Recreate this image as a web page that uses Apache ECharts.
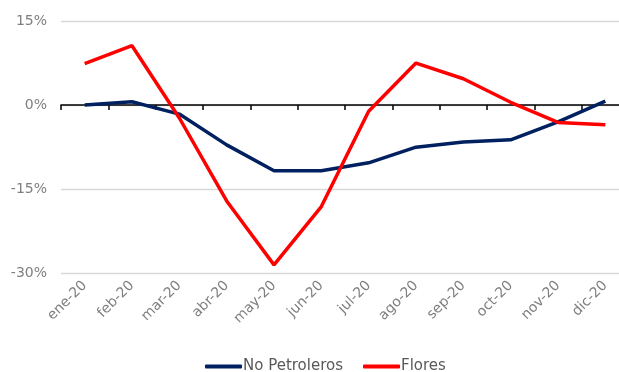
<!DOCTYPE html>
<html>
<head>
<meta charset="utf-8">
<script src="https://cdn.jsdelivr.net/npm/echarts@6/dist/echarts.min.js"></script>
<style>
html,body{margin:0;padding:0;background:#fff;overflow:hidden;width:619px;height:372px;}
#c{width:629px;height:372px;}
</style>
</head>
<body>
<div id="c"></div>
<script>
var categories = ['ene-20','feb-20','mar-20','abr-20','may-20','jun-20','jul-20','ago-20','sep-20','oct-20','nov-20','dic-20'];
var noPetroleros = [0.0, 0.6, -1.6, -7.1, -11.7, -11.7, -10.3, -7.5, -6.6, -6.2, -3.0, 0.7];
var flores = [7.4, 10.6, -2.3, -17.1, -28.5, -18.1, -1.1, 7.5, 4.7, 0.5, -3.1, -3.5];
var yTicks = [-30, -15, 0, 15];

var FONT = 'DejaVu Sans';
var chart = echarts.init(document.getElementById('c'));
chart.setOption({
  animation: false,
  backgroundColor: '#ffffff',
  textStyle: {fontFamily: FONT},
  grid: {left: 61, width: 568, top: 21, height: 252.3, containLabel: false},
  legend: {
    top: 354,
    left: 200,
    itemWidth: 37,
    itemHeight: 4,
    itemGap: 20,
    icon: 'roundRect',
    textStyle: {color: '#595959', fontSize: 15, fontFamily: FONT, padding: [0,0,0,-4]},
    data: ['No Petroleros', 'Flores']
  },
  xAxis: [
    {
      type: 'category',
      data: categories,
      boundaryGap: true,
      axisLine: {onZero: true, lineStyle: {color: '#000000', width: 1.5}},
      axisTick: {show: true, length: 5, interval: 0, lineStyle: {color: '#000000', width: 1.5}},
      axisLabel: {show: false},
      splitLine: {show: false}
    },
    {
      type: 'category',
      data: categories,
      position: 'bottom',
      boundaryGap: true,
      axisLine: {show: false, onZero: false},
      axisTick: {show: false},
      axisLabel: {
        show: true,
        rotate: 45,
        interval: 0,
        color: '#7f7f7f',
        fontSize: 14,
        fontFamily: FONT,
        margin: 10
      },
      splitLine: {show: false}
    }
  ],
  yAxis: {
    type: 'value',
    min: yTicks[0],
    max: yTicks[yTicks.length - 1],
    interval: 15,
    axisLine: {show: false},
    axisTick: {show: false},
    axisLabel: {
      color: '#7f7f7f',
      fontSize: 14,
      fontFamily: FONT,
      margin: 14,
      formatter: function (v) { return v + '%'; }
    },
    splitLine: {show: true, lineStyle: {color: '#d9d9d9', width: 1.3}}
  },
  series: [
    {
      name: 'No Petroleros',
      type: 'line',
      data: noPetroleros,
      symbol: 'none',
      lineStyle: {color: '#002060', width: 3.5},
      itemStyle: {color: '#002060'},
      z: 3
    },
    {
      name: 'Flores',
      type: 'line',
      data: flores,
      symbol: 'none',
      lineStyle: {color: '#ff0000', width: 3.5},
      itemStyle: {color: '#ff0000'},
      z: 4
    }
  ]
});
</script>
</body>
</html>
